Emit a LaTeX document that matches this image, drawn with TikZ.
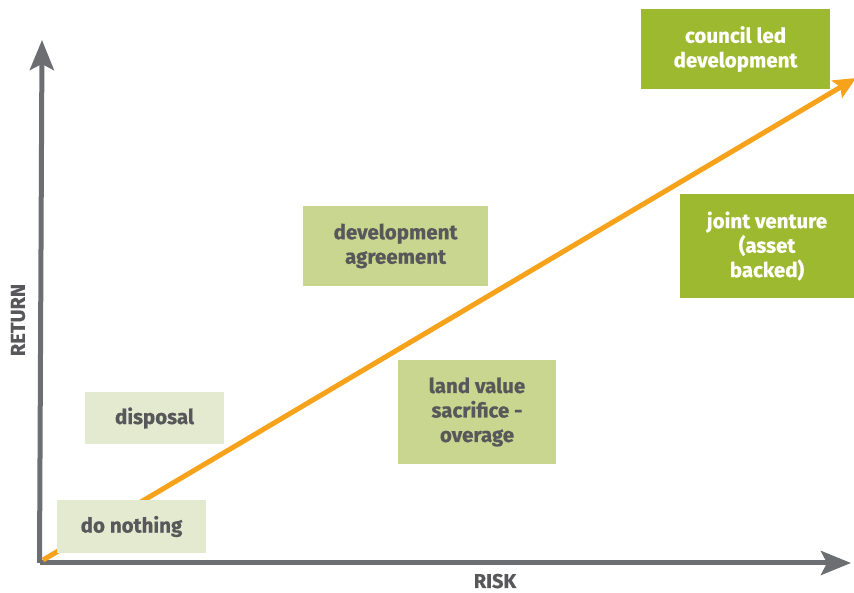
\documentclass[tikz,border=0pt]{standalone}
\usepackage{fontspec}
\setmainfont{Fira Sans}[BoldFeatures={FakeBold=0.6}]
\usetikzlibrary{arrows.meta}
\definecolor{axisgray}{HTML}{6D6E71}
\definecolor{txtgray}{HTML}{58585A}
\definecolor{orangeline}{HTML}{F7A21B}
\definecolor{darkgreen}{HTML}{9DB92F}
\definecolor{midgreen}{HTML}{C9D690}
\definecolor{palegreen}{HTML}{E4EAD0}
\tikzset{
  box/.style={rectangle, inner sep=0pt, align=center, font=\fontsize{20.5}{24.5}\selectfont\bfseries},
  darkbox/.style={box, fill=darkgreen, text=white},
  midbox/.style={box, fill=midgreen, text=txtgray},
  palebox/.style={box, fill=palegreen, text=txtgray},
  axis/.style={draw=axisgray, line width=5pt, -{Stealth[length=30pt,width=24pt,inset=6pt]}},
  axlabel/.style={text=txtgray, inner sep=0pt, font=\fontsize{20}{22}\selectfont\bfseries}
}
\begin{document}
\begin{tikzpicture}[x=1pt,y=1pt]
\useasboundingbox (0,0) rectangle (854,593);
% axes
\coordinate (O) at (42,30);
\coordinate (Ytop) at (42,553);
\coordinate (Xend) at (851,30);
\draw[axis] (39.5,30) -- (Ytop);
\draw[axis] (39.5,30) -- (Xend);
% orange trend arrow
\coordinate (S) at (43,33);
\coordinate (E) at (856,515);
\draw[draw=orangeline, line width=5pt, -{Stealth[length=22pt,width=20pt,inset=4pt]}] (S) -- (E);
% boxes
\node[darkbox, minimum width=189pt, minimum height=80pt] (council) at (735.5,544) {council led\\development};
\node[darkbox, minimum width=174pt, minimum height=104pt] (jv) at (767,347) {joint venture\\(asset\\backed)};
\node[midbox, minimum width=185pt, minimum height=80pt] (dev) at (395.5,347) {development\\agreement};
\node[midbox, minimum width=158pt, minimum height=104pt] (land) at (477,181) {land value\\sacrifice -\\overage};
\node[palebox, minimum width=139pt, minimum height=52pt] (disp) at (154.5,175) {disposal};
\node[palebox, minimum width=149pt, minimum height=53pt] (nothing) at (131.5,66.5) {do nothing};
% axis labels
\node[axlabel, anchor=base] (risk) at (495,5) {RISK};
\node[axlabel, rotate=90] (ret) at (18,273) {RETURN};
\end{tikzpicture}
\end{document}
